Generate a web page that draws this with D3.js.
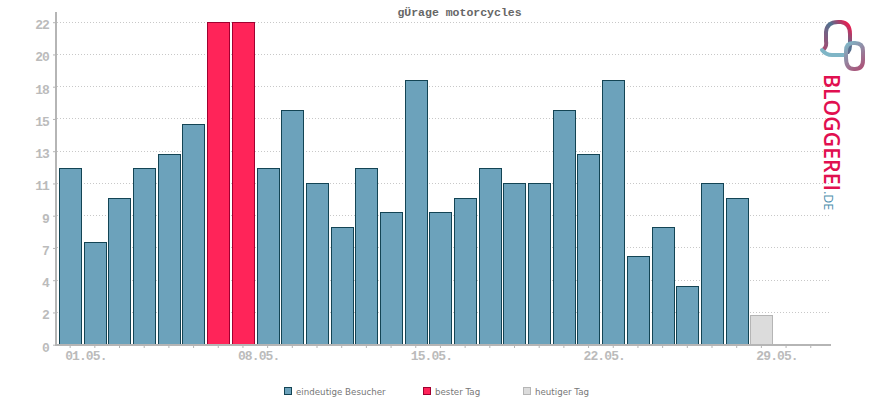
<!DOCTYPE html>
<html>
<head>
<meta charset="utf-8">
<script src="https://cdn.jsdelivr.net/npm/d3@7/dist/d3.min.js"></script>
<style>
html, body { margin: 0; padding: 0; background: #fff; }
svg { display: block; }
.tick-label { font-family: "Liberation Mono", monospace; font-weight: bold; font-size: 13px; letter-spacing: -0.9px; fill: #bbb; }
.legend-label { font-family: "DejaVu Sans", sans-serif; font-size: 8.7px; fill: #777; }
</style>
</head>
<body>
<svg id="chart" width="870" height="400"></svg>
<script>
var title = "gÜrage motorcycles";
var days = ["30.04.", "01.05.", "02.05.", "03.05.", "04.05.", "05.05.", "06.05.", "07.05.",
    "08.05.", "09.05.", "10.05.", "11.05.", "12.05.", "13.05.", "14.05.", "15.05.",
    "16.05.", "17.05.", "18.05.", "19.05.", "20.05.", "21.05.", "22.05.", "23.05.",
    "24.05.", "25.05.", "26.05.", "27.05.", "28.05.", "29.05.", "30.05."];
var visitors = [12, 7, 10, 12, 13, 15, 22, 22, 12, 16, 11, 8, 12, 9, 18, 9, 10, 12, 11, 11, 16, 13, 18, 6, 8, 4, 11, 10, 2];
var bestDays = ["06.05.", "07.05."];
var today = "28.05.";
var yTicks = [0, 2.2, 4.4, 6.6, 8.8, 11, 13.2, 15.4, 17.6, 19.8, 22];
var xLabels = ["01.05.", "08.05.", "15.05.", "22.05.", "29.05."];
var legendNames = ["eindeutige Besucher", "bester Tag", "heutiger Tag"];

var AXIS = "#b5b5b5";
var FILLS = { normal: "#6ca2bb", best: "#ff2459", today: "#dcdcdc" };
var STROKES = { normal: "#134454", best: "#a00030", today: "#b5b5b5" };

var svg = d3.select("#chart");

var x = d3.scaleBand().domain(days).range([57.8, 823.1]).paddingInner(0.1).paddingOuter(0.05);
var y = d3.scaleLinear().domain([0, 22]).range([344.7, 22.2]);
var baseline = Math.round(y(0));

function kind(day) {
    if (day === today) return "today";
    return bestDays.indexOf(day) >= 0 ? "best" : "normal";
}

// dotted grid
svg.append("g").selectAll("line")
    .data(yTicks.slice(1))
    .enter().append("line")
    .attr("x1", 57)
    .attr("x2", 829)
    .attr("y1", function(d) { return Math.floor(y(d)) + 0.5; })
    .attr("y2", function(d) { return Math.floor(y(d)) + 0.5; })
    .attr("stroke", "#c8c8c8")
    .attr("stroke-dasharray", "1,2");

// bars, snapped to whole pixels so the outline stays crisp
svg.append("g").selectAll("rect")
    .data(visitors)
    .enter().append("rect")
    .attr("x", function(d, i) { return Math.round(x(days[i])) + 0.5; })
    .attr("y", function(d) { return Math.floor(y(d)) + 0.5; })
    .attr("width", Math.round(x.bandwidth()))
    .attr("height", function(d) { return baseline - Math.floor(y(d)); })
    .attr("fill", function(d, i) { return FILLS[kind(days[i])]; })
    .attr("stroke", function(d, i) { return STROKES[kind(days[i])]; })
    .attr("stroke-width", 1);

// axes
var yAxis = svg.append("g")
    .attr("transform", "translate(56,0)")
    .call(d3.axisLeft(y).tickValues(yTicks).tickFormat(d3.format(".0f")).tickSize(3).tickPadding(4));
var xAxis = svg.append("g")
    .attr("transform", "translate(0,345)")
    .call(d3.axisBottom(x).tickValues(days).tickFormat(function(d) {
        return xLabels.indexOf(d) >= 0 ? d : "";
    }).tickSize(3).tickPadding(5));

yAxis.select(".domain").remove();
xAxis.select(".domain").remove();
svg.selectAll(".tick line").attr("stroke", AXIS);
svg.selectAll(".tick text").attr("class", "tick-label").attr("fill", null);
yAxis.selectAll(".tick text").attr("dy", "6.5px");
xAxis.selectAll(".tick text").attr("dx", -9).attr("dy", "6.5px");

svg.append("line").attr("x1", 56).attr("x2", 56).attr("y1", 12).attr("y2", 346)
    .attr("stroke", AXIS).attr("stroke-width", 2);
svg.append("line").attr("x1", 55).attr("x2", 831).attr("y1", 345).attr("y2", 345)
    .attr("stroke", AXIS).attr("stroke-width", 2);

// title
svg.append("text")
    .attr("x", 459.5)
    .attr("y", 16)
    .attr("text-anchor", "middle")
    .attr("fill", "#666")
    .style("font-family", "'Liberation Mono', monospace")
    .style("font-weight", "bold")
    .style("font-size", "11.5px")
    .text(title);

// legend
var legendX = [284, 423, 523];
var legendKinds = ["normal", "best", "today"];
var legend = svg.append("g").selectAll("g")
    .data(legendNames)
    .enter().append("g")
    .attr("transform", function(d, i) { return "translate(" + legendX[i] + ",387)"; });
legend.append("rect")
    .attr("x", 0.5).attr("y", 0.5).attr("width", 7).attr("height", 7)
    .attr("fill", function(d, i) { return FILLS[legendKinds[i]]; })
    .attr("stroke", function(d, i) { return STROKES[legendKinds[i]]; });
legend.append("text")
    .attr("class", "legend-label")
    .attr("x", 12)
    .attr("y", 8)
    .text(function(d) { return d; });

// logo
var defs = svg.append("defs");
var bell = defs.append("linearGradient").attr("id", "bell")
    .attr("gradientUnits", "userSpaceOnUse")
    .attr("x1", 822).attr("y1", 50).attr("x2", 852).attr("y2", 25);
bell.append("stop").attr("offset", 0).attr("stop-color", "#b0466e");
bell.append("stop").attr("offset", 0.6).attr("stop-color", "#4f7391");
bell.append("stop").attr("offset", 1).attr("stop-color", "#ff0f47");
var link = defs.append("linearGradient").attr("id", "link")
    .attr("gradientUnits", "userSpaceOnUse")
    .attr("x1", 845).attr("y1", 45).attr("x2", 865).attr("y2", 70);
link.append("stop").attr("offset", 0).attr("stop-color", "#7fb5c6");
link.append("stop").attr("offset", 1).attr("stop-color", "#b0466e");
var word = defs.append("linearGradient").attr("id", "word")
    .attr("gradientUnits", "userSpaceOnUse")
    .attr("x1", 0).attr("y1", 74).attr("x2", 0).attr("y2", 192);
word.append("stop").attr("offset", 0).attr("stop-color", "#e0104f");
word.append("stop").attr("offset", 0.5).attr("stop-color", "#8c4a78");
word.append("stop").attr("offset", 1).attr("stop-color", "#4f6f98");

var logo = svg.append("g").attr("fill", "none").attr("stroke-width", 4).attr("stroke-linecap", "round");
logo.append("path")
    .attr("d", "M824,49 Q827,46 826,41 L826,32 Q827,22 838,22 L841,22 Q850,23 850,34 L850,46 Q850,50 848,52")
    .attr("stroke", "url(#bell)");
logo.append("path")
    .attr("d", "M822,50 Q826,55 832,55 L845,55")
    .attr("stroke", "#7fb5c6");
logo.append("path")
    .attr("d", "M846,58 L846,51 Q846,43 853,43 L855,43 Q863,43 863,51 L863,60 Q863,69 855,69 L854,69 Q846,69 846,58")
    .attr("stroke", "url(#link)");

svg.append("text")
    .attr("transform", "translate(824,74) rotate(90)")
    .attr("fill", "url(#word)")
    .style("font-family", "'Open Sans', sans-serif")
    .style("font-weight", "600")
    .style("font-size", "21px")
    .attr("textLength", 117)
    .attr("lengthAdjust", "spacingAndGlyphs")
    .text("BLOGGEREI");
svg.append("text")
    .attr("transform", "translate(824,191) rotate(90)")
    .attr("fill", "#4f8fae")
    .style("font-family", "'Open Sans', sans-serif")
    .style("font-size", "12.5px")
    .text(".DE");
</script>
</body>
</html>
